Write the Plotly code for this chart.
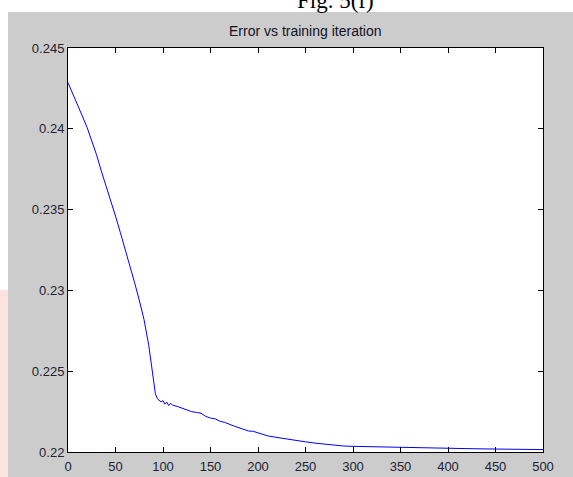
import plotly.graph_objects as go

# Data
iteration = [0, 5, 10, 15, 20, 25, 30, 35, 40, 45, 50, 55, 60, 65, 70, 75, 80, 85, 88, 90, 92, 94, 96,
             98, 100, 102, 104, 106, 108, 110, 115, 120, 125, 130, 135, 140, 145, 150, 155, 160, 165,
             170, 175, 180, 185, 190, 195, 200, 210, 220, 230, 240, 250, 260, 270, 280, 290, 300,
             320, 340, 350, 360, 380, 400, 420, 440, 450, 460, 480, 500]
error = [0.24285, 0.2422, 0.2415, 0.2408, 0.2401, 0.2393, 0.2384, 0.2374, 0.2365, 0.2356, 0.2346,
         0.2336, 0.2326, 0.2315, 0.2305, 0.2294, 0.2282, 0.2266, 0.2253, 0.2243, 0.2236, 0.2233, 0.2232,
         0.2231, 0.22318, 0.22296, 0.22308, 0.22288, 0.22302, 0.2229, 0.22282, 0.2227, 0.22262, 0.2225,
         0.22245, 0.2224, 0.2222, 0.2221, 0.22205, 0.2219, 0.22183, 0.2217, 0.2216, 0.2215, 0.22142,
         0.2213, 0.22128, 0.2212, 0.2210, 0.2209, 0.2208, 0.2207, 0.22063, 0.22055, 0.22048, 0.22043,
         0.22037, 0.22035, 0.22032, 0.22029, 0.22028, 0.22026, 0.22024, 0.22022, 0.22021, 0.22019,
         0.22018, 0.22017, 0.22016, 0.22015]
x_ticks = [0, 50, 100, 150, 200, 250, 300, 350, 400, 450, 500]
y_ticks = [0.22, 0.225, 0.23, 0.235, 0.24, 0.245]
y_tick_labels = ["0.22", "0.225", "0.23", "0.235", "0.24", "0.245"]
title_text = "Error vs training iteration"
caption_text = "Fig. 5(f)"

W, H = 573, 477
L, R, T, B = 68, 30, 48, 25
pw, ph = W - L - R, H - T - B

def px_x(p):
    return (p - L) / pw

def px_y(p):
    return 1 - (p - T) / ph

fig = go.Figure()
fig.add_trace(go.Scatter(x=iteration, y=error, mode="lines",
                         line=dict(color="#0000ff", width=1), showlegend=False))

axis_common = dict(showgrid=False, zeroline=False, showline=True, linecolor="black", linewidth=1,
                   ticks="inside", ticklen=5, tickcolor="black", mirror="ticks", automargin=False,
                   tickfont=dict(family="Arial, Liberation Sans", size=13, color="#222233"))

fig.update_xaxes(range=[0, 500], tickvals=x_ticks, ticktext=[str(v) for v in x_ticks],
                 ticklabelstandoff=2, **axis_common)
fig.update_yaxes(range=[0.22, 0.245], tickvals=y_ticks, ticktext=y_tick_labels, **axis_common)

shapes = [
    # white strip at top
    dict(type="rect", xref="paper", yref="paper", x0=px_x(0), x1=px_x(W), y0=px_y(0), y1=px_y(12),
         fillcolor="white", line=dict(width=0), layer="below"),
    # left strip
    dict(type="rect", xref="paper", yref="paper", x0=px_x(0), x1=px_x(8), y0=px_y(12), y1=px_y(290),
         fillcolor="white", line=dict(width=0), layer="below"),
    dict(type="rect", xref="paper", yref="paper", x0=px_x(0), x1=px_x(8), y0=px_y(290), y1=px_y(H),
         fillcolor="#fde2de", line=dict(width=0), layer="below"),
]

fig.update_layout(
    width=W, height=H,
    margin=dict(l=L, r=R, t=T, b=B, pad=0, autoexpand=False),
    paper_bgcolor="#cccccc", plot_bgcolor="white",
    shapes=shapes,
    annotations=[
        dict(text=title_text, xref="paper", yref="paper", x=0.5, y=px_y(31), xanchor="center",
             yanchor="middle", showarrow=False,
             font=dict(family="Arial, Liberation Sans", size=14, color="#111122")),
        dict(text=caption_text, xref="paper", yref="paper", x=px_x(335), y=px_y(1), xanchor="center",
             yanchor="middle", showarrow=False,
             font=dict(family="Times New Roman, Liberation Serif", size=23, color="black")),
    ],
)

fig.write_html("out.html")
